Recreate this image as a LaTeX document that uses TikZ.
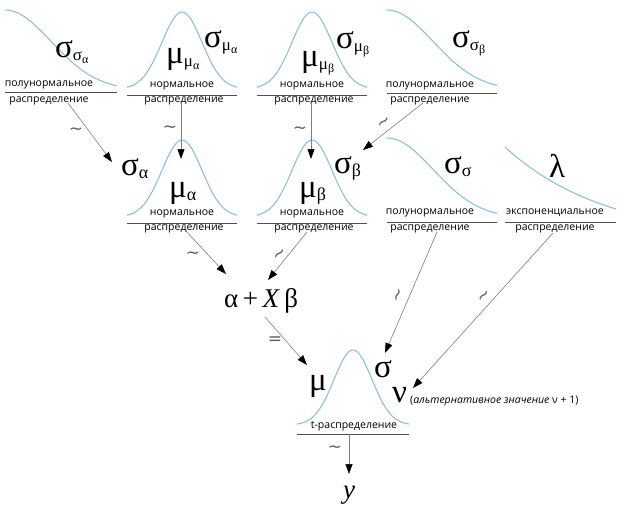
\documentclass[tikz,border=0pt]{standalone}
\usepackage{fontspec}
\setmainfont{Open Sans}
\newfontfamily\gr{Liberation Serif}
\newfontfamily\dvsans{DejaVu Sans}
\usetikzlibrary{arrows.meta}
\definecolor{curveblue}{RGB}{140,192,222}
\definecolor{arrowgray}{RGB}{125,125,125}
\definecolor{tildegray}{RGB}{95,95,95}
\definecolor{basegray}{RGB}{80,80,80}
\newcommand\gA[2]{{\fontsize{33}{33}\selectfont #1}\raisebox{-3pt}{\fontsize{18}{18}\selectfont #2}}
\newcommand\gB[3]{{\fontsize{33}{33}\selectfont #1}\raisebox{-3pt}{\fontsize{17}{17}\selectfont #2\raisebox{-3pt}{\fontsize{12}{12}\selectfont #3}}}
\newcommand\tl{\char"223C}
\tikzset{
  curve/.style={curveblue, line width=1.1pt},
  rule/.style={basegray, line width=0.9pt},
  lab/.style={font=\fontsize{10.5}{10.5}\selectfont, inner sep=0pt},
  conn/.style={arrowgray, line width=0.6pt, -{Triangle[length=10pt,width=7pt,color=black]}},
  tld/.style={font=\dvsans\fontsize{17}{17}\selectfont, text=tildegray, inner sep=0pt},
  gk/.style={font=\gr\fontsize{33}{33}\selectfont, inner sep=0pt, anchor=base west},
}
\begin{document}
\begin{tikzpicture}[x=1pt,y=-1pt]
\useasboundingbox (0,0) rectangle (626,509);
% ---------- top row ----------
\draw[curve] plot[domain=0:112,samples=50] ({5+\x},{90-80*exp(-(\x*\x)/4254)});
\draw[rule] (5,92) -- (117,92);
\node[lab] (l1a) at (49,85) {полунормальное};
\node[lab] (l1b) at (49,101) {распределение};
\node[gk] (s1) at (55,57) {\gB{σ}{σ}{α}};

\draw[curve] plot[domain=-55:55,samples=60] ({182+\x},{89-77*exp(-(\x*\x)/800)});
\draw[rule] (127,95) -- (237,95);
\node[lab] (l2a) at (182,86) {нормальное};
\node[lab] (l2b) at (184,101) {распределение};
\node[gk] (s2a) at (166,63) {\gB{μ}{μ}{α}};
\node[gk] (s2b) at (204,47) {\gB{σ}{μ}{α}};

\draw[curve] plot[domain=-55:55,samples=60] ({312+\x},{89-77*exp(-(\x*\x)/800)});
\draw[rule] (257,95) -- (367,95);
\node[lab] (l3a) at (312,86) {нормальное};
\node[lab] (l3b) at (314,101) {распределение};
\node[gk] (s3a) at (301,66) {\gB{μ}{μ}{β}};
\node[gk] (s3b) at (336,48) {\gB{σ}{μ}{β}};

\draw[curve] plot[domain=0:110,samples=50] ({387+\x},{90-80*exp(-(\x*\x)/4254)});
\draw[rule] (387,93) -- (497,93);
\node[lab] (l4a) at (430,86) {полунормальное};
\node[lab] (l4b) at (430,101) {распределение};
\node[gk] (s4) at (452,47) {\gB{σ}{σ}{β}};

% ---------- middle row ----------
\draw[curve] plot[domain=-55:55,samples=60] ({182+\x},{217-77*exp(-(\x*\x)/800)});
\draw[rule] (127,223) -- (237,223);
\node[lab] (l5a) at (182,214) {нормальное};
\node[lab] (l5b) at (184,229) {распределение};
\node[gk] (m5) at (169,197) {\gA{μ}{α}};
\node[gk] (sa) at (121,175) {\gA{σ}{α}};

\draw[curve] plot[domain=-55:55,samples=60] ({312+\x},{217-77*exp(-(\x*\x)/800)});
\draw[rule] (257,223) -- (367,223);
\node[lab] (l6a) at (312,214) {нормальное};
\node[lab] (l6b) at (314,229) {распределение};
\node[gk] (m6) at (299,197) {\gA{μ}{β}};
\node[gk] (sb) at (334,173) {\gA{σ}{β}};

\draw[curve] plot[domain=0:110,samples=50] ({387+\x},{218-80*exp(-(\x*\x)/4254)});
\draw[rule] (387,222) -- (497,222);
\node[lab] (l7a) at (430,213) {полунормальное};
\node[lab] (l7b) at (430,229) {распределение};
\node[gk] (s7) at (444,173) {\gA{σ}{σ}};

\draw[curve] plot[domain=0:111,samples=50] ({505+\x},{240-93*exp(-\x/101)});
\draw[rule] (505,222) -- (616,222);
\node[lab] (l8a) at (555,213) {экспоненциальное};
\node[lab] (l8b) at (555,229) {распределение};
\node[gk] (lam) at (549,177) {λ};

% ---------- lower part ----------
\node[gk, font=\gr\fontsize{27}{27}\selectfont] (lin) at (224,307) {α\,+\,\textit{X}\,β};
\draw[curve] plot[domain=-56:56,samples=60] ({353+\x},{425-75*exp(-(\x*\x)/722)});
\draw[rule] (297,434) -- (409,434);
\node[lab] (lt) at (354,426) {t-распределение};
\node[gk] (mu) at (309,390) {μ};
\node[gk] (sig) at (374,377) {σ};
\node[gk] (nu) at (392,402) {ν};
\node[lab, anchor=base west, font=\fontsize{10.5}{10.5}\selectfont] (alt) at (410,403) {(\textit{альтернативное значение} ν + 1)};
\node[gk, font=\gr\itshape\fontsize{27}{27}\selectfont] (yy) at (343,498) {y};

% ---------- connectors ----------
\coordinate (a1s) at (68,103);  \coordinate (a1e) at (112,162);
\coordinate (a2s) at (181,104); \coordinate (a2e) at (181,159);
\coordinate (a3s) at (311,104); \coordinate (a3e) at (311,159);
\coordinate (a4s) at (423,103); \coordinate (a4e) at (363,150);
\coordinate (a5s) at (185,230); \coordinate (a5e) at (226,274);
\coordinate (a6s) at (307,232); \coordinate (a6e) at (268,280);
\coordinate (a7s) at (437,232); \coordinate (a7e) at (385,353);
\coordinate (a8s) at (553,233); \coordinate (a8e) at (413,388);
\coordinate (a9s) at (265,317); \coordinate (a9e) at (307,365);
\coordinate (a10s) at (349,434); \coordinate (a10e) at (349,474);
\draw[conn] (a1s) -- (a1e);
\draw[conn] (a2s) -- (a2e);
\draw[conn] (a3s) -- (a3e);
\draw[conn] (a4s) -- (a4e);
\draw[conn] (a5s) -- (a5e);
\draw[conn] (a6s) -- (a6e);
\draw[conn] (a7s) -- (a7e);
\draw[conn] (a8s) -- (a8e);
\draw[conn] (a9s) -- (a9e);
\draw[conn] (a10s) -- (a10e);

% ---------- tildes ----------
\node[tld] (t1) at (76,131) {\tl};
\node[tld] (t2) at (170,129) {\tl};
\node[tld] (t3) at (300,130) {\tl};
\node[tld, rotate=38] (t4) at (385,123) {\tl};
\node[tld] (t5) at (193,255) {\tl};
\node[tld, rotate=40] (t6) at (281,255) {\tl};
\node[tld, rotate=70] (t7) at (400,296) {\tl};
\node[tld, rotate=45] (t8) at (485,297) {\tl};
\node[tld] (t9) at (275,341) {=};
\node[tld] (t10) at (335,449) {\tl};
\end{tikzpicture}
\end{document}
